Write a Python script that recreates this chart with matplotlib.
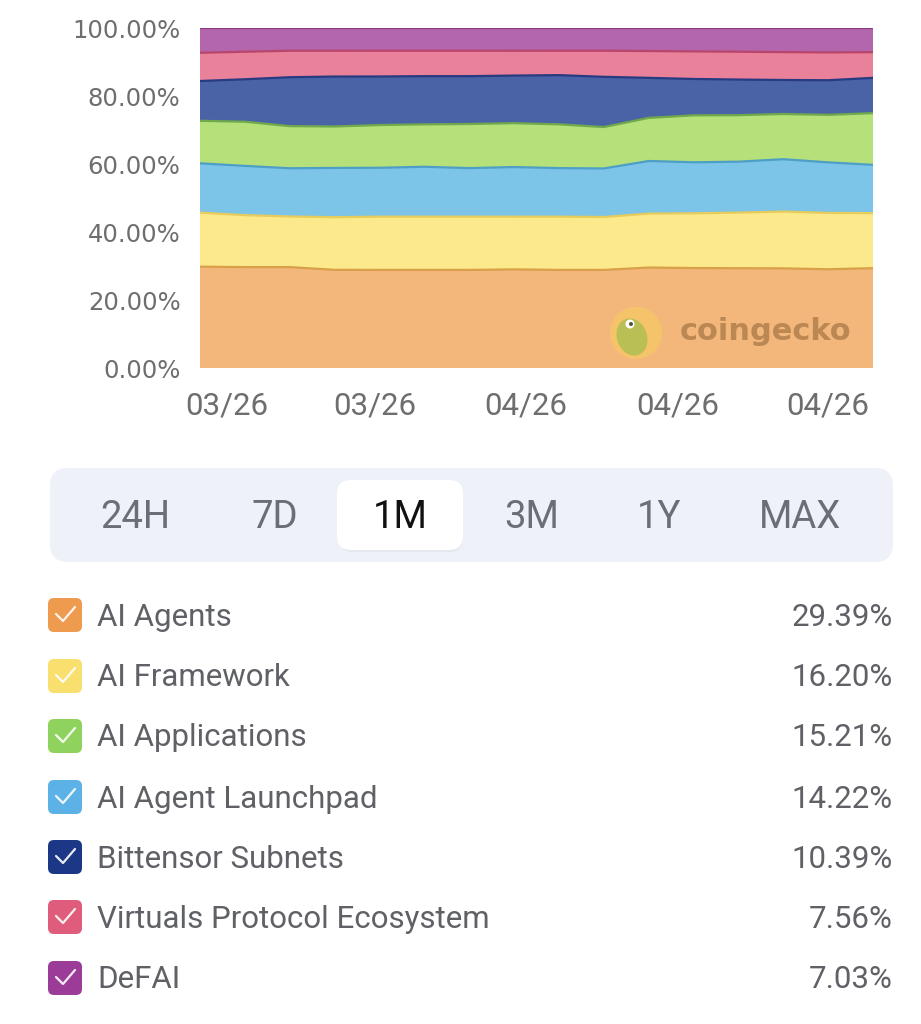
import numpy as np
import matplotlib
matplotlib.use("Agg")
import matplotlib.pyplot as plt
from matplotlib.patches import FancyBboxPatch, Circle, Ellipse

# ---------------- data (share of market cap, %) ----------------
days = [0, 2, 4, 6, 8, 10, 12, 14, 16, 18, 20, 22, 24, 26, 28, 30]
ai_agents = [29.8, 29.7, 29.7, 28.9, 28.9, 28.9, 28.9, 29.0, 28.9, 28.9, 29.6, 29.4, 29.4, 29.3, 29.1, 29.39]
ai_framework = [15.9, 15.3, 14.9, 15.5, 15.7, 15.7, 15.7, 15.5, 15.7, 15.6, 15.9, 16.1, 16.4, 16.7, 16.6, 16.20]
ai_launchpad = [14.5, 14.5, 14.2, 14.5, 14.4, 14.7, 14.3, 14.6, 14.3, 14.3, 15.5, 15.0, 15.0, 15.4, 14.9, 14.22]
ai_applications = [12.5, 13.0, 12.4, 12.2, 12.6, 12.5, 13.0, 12.9, 12.9, 12.2, 12.7, 13.8, 13.7, 13.3, 14.0, 15.21]
bittensor = [11.7, 12.5, 14.4, 14.7, 14.3, 14.2, 14.1, 14.0, 14.5, 14.8, 11.8, 10.7, 10.5, 10.0, 10.2, 10.39]
virtuals = [8.3, 8.1, 7.8, 7.6, 7.6, 7.5, 7.5, 7.3, 7.2, 7.7, 7.9, 8.1, 8.2, 8.2, 8.2, 7.56]
defai = [7.2, 6.9, 6.6, 6.6, 6.6, 6.6, 6.6, 6.6, 6.6, 6.6, 6.7, 6.8, 6.9, 7.0, 7.1, 7.03]

x_tick_pos = [1.2, 7.8, 14.5, 21.3, 28.0]
x_tick_labels = ["03/26", "03/26", "04/26", "04/26", "04/26"]
y_ticks = [0, 20, 40, 60, 80, 100]

legend_names = ["AI Agents", "AI Framework", "AI Applications", "AI Agent Launchpad",
                "Bittensor Subnets", "Virtuals Protocol Ecosystem", "DeFAI"]
legend_values = ["29.39%", "16.20%", "15.21%", "14.22%", "10.39%", "7.56%", "7.03%"]
legend_colors = ["#EE9B50", "#F8DF6E", "#8FD35E", "#5CB2E6", "#1C3785", "#E05C7C", "#9A3C98"]

periods = ["24H", "7D", "1M", "3M", "1Y", "MAX"]
selected_period = "1M"

# stacking order (bottom -> top) and area colours
stack_series = [ai_agents, ai_framework, ai_launchpad, ai_applications, bittensor, virtuals, defai]
area_colors = ["#F3B77B", "#FCE98B", "#7CC4E8", "#B6E07A", "#4A62A6", "#E9819A", "#B466AC"]
edge_colors = ["#D9A04A", "#E6CC5C", "#4E9FC6", "#6FA94C", "#283A80", "#B8456C", "#8C3C8A"]

# ---------------- figure ----------------
W, H = 921, 1024
fig = plt.figure(figsize=(W / 100, H / 100), dpi=100)
fig.patch.set_facecolor("white")

ax_l, ax_r, ax_t, ax_b = 200, 873, 28.3, 368
ax = fig.add_axes([ax_l / W, 1 - ax_b / H, (ax_r - ax_l) / W, (ax_b - ax_t) / H])

data = np.array(stack_series, dtype=float)
data = data / data.sum(axis=0) * 100.0
ax.stackplot(days, data, colors=area_colors, linewidth=0)
cum = np.cumsum(data, axis=0)
for i in range(len(stack_series)):
    ax.plot(days, cum[i], color=edge_colors[i], lw=1.6, solid_joinstyle="round")

ax.set_xlim(days[0], days[-1])
ax.set_ylim(0, 100)
for s in ax.spines.values():
    s.set_visible(False)
ax.set_yticks(y_ticks)
ax.set_yticklabels([f"{v:.2f}%" for v in y_ticks], family="DejaVu Sans", fontsize=17.5, color="#6E6E6E")
ax.set_xticks(x_tick_pos)
ax.set_xticklabels(x_tick_labels, family=["Roboto", "DejaVu Sans"], fontsize=22.5, color="#6E6E6E")
ax.tick_params(axis="y", length=0, pad=14)
ax.tick_params(axis="x", length=0, pad=17)

# ---------------- overlay in pixel coordinates ----------------
ov = fig.add_axes([0, 0, 1, 1], zorder=5)
ov.set_xlim(0, W)
ov.set_ylim(H, 0)
ov.axis("off")
ov.patch.set_alpha(0)

# watermark
ov.add_patch(Circle((636, 333), 26, color="#F7C863", alpha=0.75, lw=0))
ov.add_patch(Ellipse((632, 337), 30, 38, angle=-20, color="#B9BE55", lw=0))
ov.add_patch(Circle((630, 324), 4.5, color="white", lw=0))
ov.add_patch(Circle((631, 324), 2, color="#555533", lw=0))
ov.text(766, 331, "coingecko", fontsize=22, fontweight="bold", family="DejaVu Sans",
        color="#B5824F", alpha=0.9, ha="center", va="center")

# period selector
ov.add_patch(FancyBboxPatch((50 + 18, 468 + 18), 843 - 36, 94 - 36,
                            boxstyle="round,pad=18", fc="#EEF2F8", ec="none"))
ov.add_patch(FancyBboxPatch((339 + 14, 482 + 14), 124 - 28, 70 - 28,
                            boxstyle="round,pad=14", fc="#E4E8EE", ec="none"))
ov.add_patch(FancyBboxPatch((337 + 14, 480 + 14), 126 - 28, 70 - 28,
                            boxstyle="round,pad=14", fc="white", ec="none"))
period_x = [135, 275, 400, 532, 659, 800]
for p, px in zip(periods, period_x):
    ov.text(px, 518, p, fontsize=27.5, family=["Roboto", "DejaVu Sans"],
            color="#111111" if p == selected_period else "#6A6E75",
            ha="center", va="center")

# legend rows
row_y = [615, 676, 736, 797, 857, 917, 978]
for name, val, col, ry in zip(legend_names, legend_values, legend_colors, row_y):
    ov.add_patch(FancyBboxPatch((48 + 6, ry - 17 + 6), 34 - 12, 34 - 12,
                                boxstyle="round,pad=6", fc=col, ec="none"))
    ov.plot([56, 63, 75], [ry - 1, ry + 6, ry - 8], color="white", lw=1.6,
            alpha=0.9, solid_capstyle="round", solid_joinstyle="round")
    ov.text(97, ry + 2, name, fontsize=22.5, family=["Roboto", "DejaVu Sans"],
            color="#5F6166", ha="left", va="center")
    ov.text(893, ry + 2, val, fontsize=22.5, family=["Roboto", "DejaVu Sans"],
            color="#5F6166", ha="right", va="center")

fig.savefig("out.png", dpi=100, facecolor="white")
